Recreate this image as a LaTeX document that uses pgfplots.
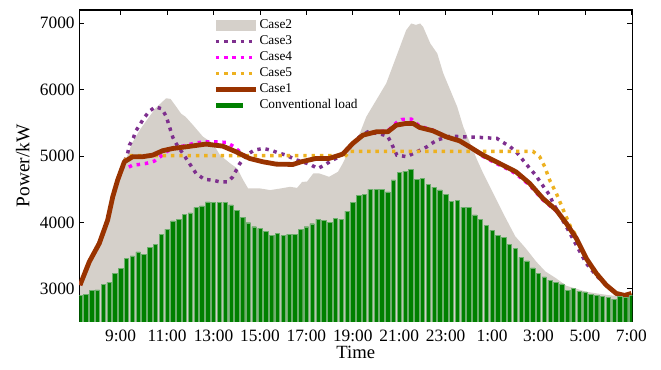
\documentclass[border=0pt]{standalone}
\usepackage{pgfplots}
\pgfplotsset{compat=1.18}
\usepackage{fontspec}
\setmainfont{Liberation Serif}
\definecolor{cgrey}{RGB}{213,208,202}
\definecolor{cbrown}{RGB}{153,51,0}
\definecolor{cpurple}{RGB}{126,47,142}
\definecolor{cmag}{RGB}{255,0,255}
\definecolor{corange}{RGB}{237,177,32}
\definecolor{cgreen}{RGB}{0,128,0}
\definecolor{cgreenedge}{RGB}{110,175,110}

\pgfplotstableread{
x y
7.25 3055
7.65 3407
8.08 3684
8.44 4035
8.66 4386
8.87 4637
9.16 4913
9.52 4990
9.95 4990
10.38 5013
10.81 5080
11.25 5114
11.82 5139
12.68 5180
13.4 5149
13.97 5064
14.55 4964
15.13 4913
15.7 4878
16.42 4873
16.78 4913
17.42 4964
17.99 4964
18.57 5029
19.0 5190
19.44 5315
20.01 5365
20.51 5365
20.87 5465
21.3 5491
21.6 5491
21.88 5430
22.45 5380
23.03 5289
23.6 5229
24.03 5139
24.61 5013
25.18 4913
25.75 4813
26.04 4760
26.62 4587
27.19 4361
27.77 4185
28.2 3985
28.63 3759
29.06 3457
29.49 3232
29.92 3055
30.35 2930
30.71 2900
31.0 2930
}\caseone

\pgfplotstableread{
x y
7.25 3030
7.65 3380
8.08 3660
8.44 4010
8.66 4360
8.87 4610
9.16 4890
9.5 5200
9.84 5400
10.0 5480
10.5 5720
10.96 5870
11.15 5860
11.4 5740
11.6 5640
11.8 5590
12.12 5465
12.55 5290
12.98 5190
13.28 5013
13.72 4889
14.02 4813
14.28 4637
14.49 4512
15.0 4512
15.44 4487
15.87 4510
16.3 4536
16.6 4520
16.82 4610
17.03 4615
17.3 4738
17.55 4738
17.98 4687
18.36 4762
18.57 4889
18.84 5089
19.3 5340
19.58 5590
20.01 5842
20.44 6093
20.87 6494
21.3 6896
21.52 6997
21.72 6975
21.9 6997
22.03 6946
22.34 6696
22.64 6545
22.9 6244
23.2 5993
23.5 5741
23.76 5440
24.06 5190
24.36 4938
24.62 4738
25.05 4437
25.48 4136
26.0 3790
26.45 3610
26.9 3410
27.3 3260
27.75 3160
28.2 3045
28.6 3005
29.0 2960
29.5 2930
30.0 2905
30.5 2885
31.0 2910
}\casetwo

\pgfplotstableread{
x y
7.25 3055
7.65 3407
8.08 3684
8.44 4035
8.66 4386
8.87 4637
9.16 4913
9.3 5039
9.38 5164
9.55 5275
9.66 5380
9.84 5480
10.02 5580
10.24 5676
10.5 5741
10.77 5711
10.96 5601
11.14 5400
11.25 5280
11.43 5164
11.68 5039
11.96 4889
12.25 4738
12.61 4648
12.97 4637
13.25 4612
13.62 4612
13.83 4687
14.12 4878
14.41 5013
14.76 5089
15.13 5114
15.48 5089
15.77 5049
16.13 5013
16.5 4950
17.13 4878
17.5 4813
17.78 4863
18.07 4928
18.43 4990
18.93 5164
19.29 5289
19.65 5365
20.2 5330
20.5 5300
20.65 5200
20.9 5013
21.33 4990
21.76 5064
22.19 5139
22.62 5240
23.2 5300
23.76 5290
24.49 5280
25.21 5265
25.5 5200
25.78 5139
26.04 5064
26.47 4878
26.9 4702
27.12 4587
27.48 4411
27.62 4296
28.2 3935
28.63 3658
29.06 3382
29.49 3200
29.92 3055
30.35 2930
30.71 2900
31.0 2930
}\casethree

\pgfplotstableread{
x y
7.25 3055
7.65 3407
8.08 3684
8.44 4035
8.66 4386
8.87 4637
9.1 4830
9.23 4813
9.52 4863
9.81 4873
10.1 4889
10.45 4923
10.74 4998
11.0 5070
11.25 5114
11.82 5160
12.25 5199
12.68 5214
13.1 5214
13.54 5205
13.9 5139
14.2 5040
14.55 4964
15.13 4913
15.7 4878
16.42 4873
16.78 4913
17.42 4964
17.99 4964
18.57 5029
19.0 5190
19.44 5315
20.01 5365
20.51 5380
20.87 5500
21.1 5550
21.52 5556
21.88 5450
22.45 5390
23.03 5289
23.6 5229
24.03 5139
24.61 4995
25.18 4890
25.75 4790
26.04 4730
26.62 4560
27.19 4340
27.77 4170
28.2 3985
28.63 3759
29.06 3457
29.49 3232
29.92 3055
30.35 2930
30.71 2900
31.0 2930
}\casefour

\pgfplotstableread{
x y
7.25 3055
7.65 3407
8.08 3684
8.44 4035
8.66 4386
8.87 4637
9.16 4913
9.3 5005
18.7 5005
18.84 5070
26.76 5070
27.05 4990
27.27 4838
27.48 4637
27.77 4437
28.13 4136
28.41 3910
28.55 3840
28.63 3759
29.06 3457
29.49 3232
29.92 3055
30.35 2930
30.71 2900
31.0 2930
}\casefive

\pgfplotstableread{
x y
7.25 2900
7.5 2920
7.75 2980
8.0 2985
8.25 3066
8.5 3096
8.75 3230
9.0 3312
9.25 3457
9.5 3497
9.75 3557
10.0 3523
10.25 3628
10.5 3668
10.75 3819
11.0 3899
11.25 4024
11.5 4045
11.75 4120
12.0 4145
12.25 4225
12.5 4250
12.75 4310
13.0 4300
13.25 4300
13.5 4305
13.75 4265
14.0 4180
14.25 4080
14.5 3995
14.75 3935
15.0 3910
15.25 3870
15.5 3810
15.75 3835
16.0 3800
16.25 3820
16.5 3820
16.75 3900
17.0 3935
17.25 3980
17.5 4050
17.75 4030
18.0 4005
18.25 4060
18.5 4050
18.75 4170
19.0 4300
19.25 4410
19.5 4420
19.75 4500
20.0 4500
20.25 4495
20.5 4460
20.75 4640
21.0 4757
21.25 4772
21.5 4798
21.75 4652
22.0 4662
22.25 4572
22.5 4532
22.75 4491
23.0 4425
23.25 4320
23.5 4330
23.75 4230
24.0 4225
24.25 4115
24.5 4045
24.75 3960
25.0 3885
25.25 3805
25.5 3780
25.75 3668
26.0 3608
26.25 3472
26.5 3422
26.75 3316
27.0 3236
27.25 3180
27.5 3131
27.75 3100
28.0 3075
28.25 2980
28.5 3005
28.75 2965
29.0 2955
29.25 2920
29.5 2900
29.75 2885
30.0 2870
30.25 2845
30.5 2890
30.75 2870
31.0 2905
}\conv

\pgfplotsset{
  legarea/.style={legend image code/.code={\fill[cgrey] (0pt,-4.3pt) rectangle (30pt,4.3pt);}},
  legdot/.style={legend image code/.code={\draw[##1] (0pt,0pt) -- (30pt,0pt);}},
  legbar/.style={legend image code/.code={\fill[cgreen] (0pt,-1.5pt) rectangle (20pt,1.5pt); \path[draw=none,fill=none] (0pt,-0.1pt) rectangle (30pt,0.1pt);}},
}

\begin{document}
\begin{tikzpicture}
\path[use as bounding box] (-59.5pt,-36pt) rectangle (436.3pt,241.5pt);
\begin{axis}[
  at={(0pt,0pt)}, anchor=south west,
  scale only axis, width=414.75pt, height=234pt,
  xmin=7.22, xmax=31.04, ymin=2500, ymax=7200,
  xtick={9,11,13,15,17,19,21,23,25,27,29,31},
  xticklabels={9:00,11:00,13:00,15:00,17:00,19:00,21:00,23:00,1:00,3:00,5:00,7:00},
  ytick={3000,4000,5000,6000,7000},
  /pgf/number format/1000 sep={},
  /pgf/number format/assume math mode=true,
  tick align=inside, major tick length=3.75pt,
  tick style={black, line width=0.6pt},
  axis line style={black, line width=0.8pt},
  ticklabel style={font=\fontsize{13}{13}\selectfont},
  xticklabel style={yshift=-2.5pt},
  xlabel={Time}, ylabel={Power/kW},
  every axis x label/.style={at={(axis description cs:0.5,-0.098)}, anchor=center, font=\fontsize{14}{14}\selectfont},
  every axis y label/.style={at={(axis description cs:-0.102,0.5)}, rotate=90, anchor=center, font=\fontsize{14.5}{14.5}\selectfont},
  legend style={draw=none, fill=none, inner sep=0pt, at={(axis description cs:0.242,0.975)}, anchor=north west,
    font=\fontsize{10}{10}\selectfont, row sep=1pt,
    nodes={inner sep=1pt, text height=7pt, text depth=2pt}},
  legend cell align=left,
]
\addplot[fill=cgrey, draw=none, legarea]
  table[x=x,y=y] {\casetwo} \closedcycle;
\addlegendentry{Case2}
\addplot[cpurple, line width=2.6pt, dash pattern=on 2.6pt off 3.6pt, legdot]
  table[x=x,y=y] {\casethree};
\addlegendentry{Case3}
\addplot[cmag, line width=2.6pt, dash pattern=on 2.6pt off 3.6pt, legdot]
  table[x=x,y=y] {\casefour};
\addlegendentry{Case4}
\addplot[corange, line width=2.6pt, dash pattern=on 2.6pt off 3.6pt, legdot]
  table[x=x,y=y] {\casefive};
\addlegendentry{Case5}
\addplot[cbrown, line width=3.6pt, line join=round, legdot]
  table[x=x,y=y] {\caseone};
\addlegendentry{Case1}
\addlegendimage{legbar}
\addlegendentry{Conventional load}
\addplot[ybar, bar width=3.3pt, fill=cgreen, draw=cgreenedge, line width=0.3pt, forget plot]
  table[x=x,y=y] {\conv};
\end{axis}
\end{tikzpicture}
\end{document}
